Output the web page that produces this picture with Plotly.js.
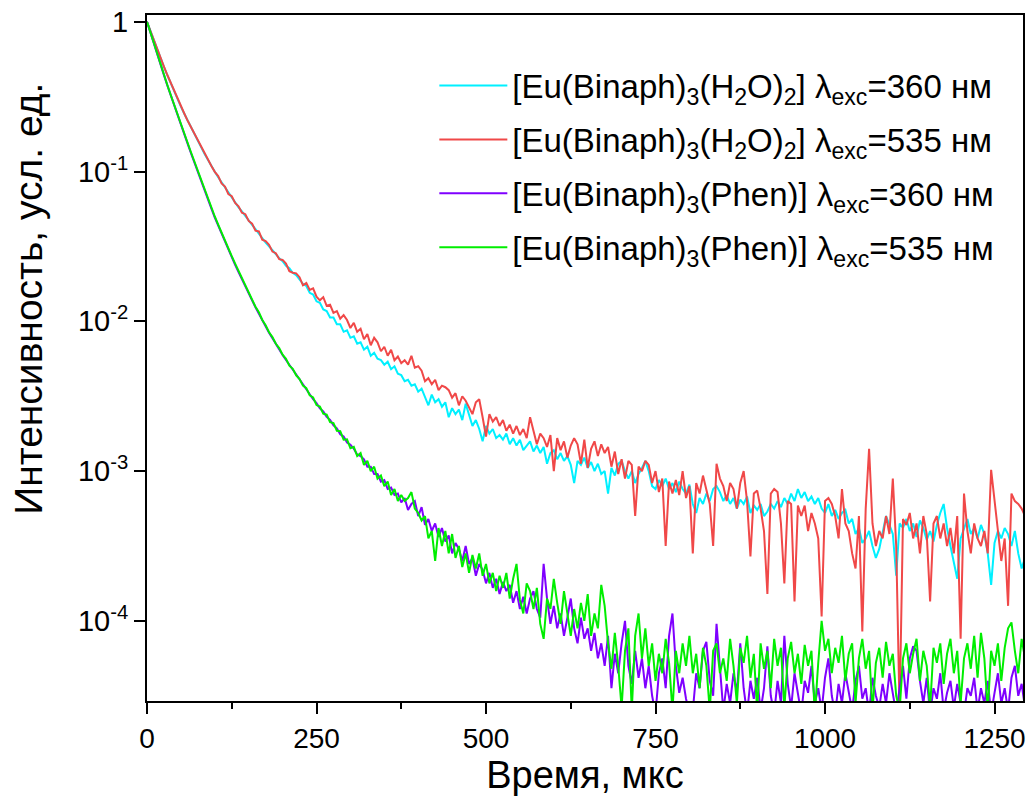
<!DOCTYPE html>
<html>
<head>
<meta charset="utf-8">
<script src="https://cdn.plot.ly/plotly-3.0.1.min.js"></script>
<style>html,body{margin:0;padding:0;background:#fff;}#chart{width:1032px;height:798px;}</style>
</head>
<body>
<div id="chart"></div>
<script>
// Time, µs
const time = [
0,5,10,15,20,25,30,35,40,45,50,55,60,65,70,75,80,85,90,95,
100,105,110,115,120,125,130,135,140,145,150,155,160,165,170,175,180,185,190,195,
200,205,210,215,220,225,230,235,240,245,250,255,260,265,270,275,280,285,290,295,
300,305,310,315,320,325,330,335,340,345,350,355,360,365,370,375,380,385,390,395,
400,405,410,415,420,425,430,435,440,445,450,455,460,465,470,475,480,485,490,495,
500,505,510,515,520,525,530,535,540,545,550,555,560,565,570,575,580,585,590,595,
600,605,610,615,620,625,630,635,640,645,650,655,660,665,670,675,680,685,690,695,
700,705,710,715,720,725,730,735,740,745,750,755,760,765,770,775,780,785,790,795,
800,805,810,815,820,825,830,835,840,845,850,855,860,865,870,875,880,885,890,895,
900,905,910,915,920,925,930,935,940,945,950,955,960,965,970,975,980,985,990,995,
1000,1005,1010,1015,1020,1025,1030,1035,1040,1045,1050,1055,1060,1065,1070,1075,1080,1085,1090,1095,
1100,1105,1110,1115,1120,1125,1130,1135,1140,1145,1150,1155,1160,1165,1170,1175,1180,1185,1190,1195,
1200,1205,1210,1215,1220,1225,1230,1235,1240,1245,1250,1255,1260,1265,1270,1275,1280,1285,1290,1295,
1300];

// [Eu(Binaph)3(H2O)2], λexc = 360 nm
const h2o360 = [
1,0.865,0.752,0.655,0.572,0.500,0.440,0.388,0.343,0.305,0.271,0.243,0.218,0.196,0.177,0.160,0.145,0.131,0.119,0.109,
0.0998,0.0915,0.0846,0.0778,0.0722,0.0666,0.0622,0.0576,0.0541,0.0503,0.0474,0.0440,0.0413,0.0383,0.0362,0.0335,0.0317,0.0297,0.0283,0.0264,
0.0252,0.0235,0.0226,0.0211,0.0203,0.0189,0.0178,0.0172,0.0155,0.0151,0.0136,0.0133,0.0120,0.0117,0.0106,0.0106,0.00955,0.00955,0.00851,0.00871,
0.00776,0.00794,0.00708,0.00724,0.00646,0.00676,0.00589,0.00617,0.00562,0.00550,0.00513,0.00537,0.00479,0.00501,0.00447,0.00437,0.00398,0.00407,0.00372,0.00380,
0.00339,0.00355,0.00316,0.00275,0.00324,0.00288,0.00302,0.00269,0.00288,0.00229,0.00263,0.00240,0.00257,0.00219,0.00282,0.00234,0.00200,0.00219,0.00191,0.00158,
0.00200,0.00178,0.00191,0.00166,0.00174,0.00162,0.00178,0.00151,0.00166,0.00148,0.00162,0.00138,0.00148,0.00158,0.00135,0.00148,0.00132,0.00145,0.00112,0.00132,
0.00138,0.00120,0.00132,0.00117,0.00126,0.00110,0.000832,0.00117,0.00110,0.00123,0.00105,0.00115,0.00100,0.00112,0.000955,0.00100,0.000708,0.00105,0.000933,0.00112,
0.00117,0.00100,0.000891,0.00100,0.000832,0.000955,0.00105,0.00117,0.00100,0.000794,0.000759,0.000871,0.000794,0.000891,0.000759,0.000832,0.000724,0.000851,0.000759,0.000708,
0.000813,0.000603,0.000525,0.000661,0.000603,0.000708,0.000631,0.000759,0.000794,0.000724,0.000631,0.000692,0.000603,0.000661,0.000562,0.000646,0.000603,0.000676,0.000525,0.000589,
0.000550,0.000603,0.000501,0.000537,0.000603,0.000562,0.000631,0.000575,0.000661,0.000603,0.000708,0.000631,0.000759,0.000661,0.000724,0.000631,0.000676,0.000603,0.000661,0.000562,
0.000525,0.000603,0.000501,0.000550,0.000479,0.000525,0.000550,0.000447,0.000479,0.000380,0.000417,0.000331,0.000355,0.000398,0.000316,0.000263,0.000302,0.000398,0.000501,0.000437,
0.000380,0.000200,0.000447,0.000417,0.000479,0.000398,0.000447,0.000363,0.000468,0.000417,0.000347,0.000398,0.000339,0.000437,0.000525,0.000603,0.000417,0.000316,0.000240,0.000191,
0.000355,0.000417,0.000479,0.000380,0.000417,0.000355,0.000437,0.000380,0.000282,0.000174,0.000331,0.000398,0.000355,0.000417,0.000380,0.000316,0.000398,0.000282,0.000224,0.000263,
0.000251];

// [Eu(Binaph)3(H2O)2], λexc = 535 nm
const h2o535 = [
1,0.867,0.753,0.657,0.573,0.502,0.441,0.390,0.344,0.306,0.272,0.244,0.218,0.197,0.177,0.161,0.145,0.132,0.119,0.109,
0.0995,0.0933,0.0832,0.0794,0.0708,0.0684,0.0617,0.0586,0.0531,0.0519,0.0468,0.0449,0.0403,0.0398,0.0351,0.0343,0.0324,0.0292,0.0285,0.0260,
0.0257,0.0243,0.0216,0.0211,0.0209,0.0197,0.0174,0.0180,0.0162,0.0166,0.0146,0.0138,0.0145,0.0127,0.0129,0.0114,0.0117,0.0104,0.0110,0.0102,
0.00902,0.00977,0.00851,0.00891,0.00759,0.00822,0.00692,0.00776,0.00724,0.00631,0.00676,0.00589,0.00646,0.00550,0.00582,0.00525,0.00550,0.00513,0.00589,0.00490,
0.00501,0.00468,0.00398,0.00417,0.00380,0.00407,0.00347,0.00372,0.00363,0.00347,0.00309,0.00331,0.00275,0.00316,0.00295,0.00263,0.00240,0.00288,0.00302,0.00229,
0.00170,0.00240,0.00214,0.00229,0.00200,0.00219,0.00186,0.00204,0.00178,0.00200,0.00174,0.00191,0.00166,0.00229,0.00182,0.00151,0.00178,0.00166,0.00145,0.00174,
0.00100,0.00166,0.00138,0.00158,0.00123,0.00148,0.00166,0.00151,0.00112,0.00162,0.00105,0.00141,0.00158,0.00126,0.00151,0.00132,0.00145,0.00107,0.00135,0.000955,
0.00120,0.000891,0.00117,0.00110,0.000501,0.00107,0.00100,0.00117,0.00110,0.000832,0.00100,0.000724,0.000891,0.000316,0.000851,0.000708,0.000871,0.000692,0.00100,0.000661,
0.000794,0.000282,0.000832,0.000708,0.000933,0.000759,0.000603,0.000316,0.00112,0.000891,0.000794,0.000631,0.000832,0.000759,0.000562,0.000832,0.00100,0.000631,0.000269,0.000708,
0.000741,0.000562,0.000398,0.000151,0.000708,0.000759,0.000724,0.000447,0.000178,0.000631,0.000603,0.000135,0.000589,0.000501,0.000589,0.000398,0.000525,0.000447,0.000355,0.000107,
0.000631,0.000661,0.000603,0.000501,0.000355,0.000759,0.000447,0.000398,0.000282,0.000224,0.000501,0.0000851,0.000562,0.00141,0.000447,0.000316,0.000398,0.000355,0.000501,0.000380,
0.000891,0.000316,0.0000251,0.000479,0.000437,0.000525,0.000355,0.000447,0.000282,0.000501,0.000380,0.000135,0.000447,0.000501,0.000355,0.000447,0.000316,0.000417,0.000282,0.000501,
0.0000759,0.000708,0.000398,0.000282,0.000447,0.000355,0.000316,0.000398,0.000282,0.00102,0.000631,0.000398,0.000251,0.000355,0.000126,0.000708,0.000631,0.000603,0.000562,0.000501,
0.000501];

// [Eu(Binaph)3(Phen)], λexc = 360 nm
const phen360 = [
1,0.843,0.714,0.606,0.516,0.440,0.376,0.322,0.276,0.237,0.205,0.177,0.153,0.132,0.114,0.0990,0.0858,0.0746,0.0650,0.0565,
0.0492,0.0434,0.0382,0.0338,0.0299,0.0267,0.0238,0.0213,0.0190,0.0170,0.0152,0.0138,0.0124,0.0112,0.0101,0.00918,0.00840,0.00772,0.00705,0.00650,
0.00596,0.00552,0.00510,0.00474,0.00440,0.00410,0.00380,0.00350,0.00327,0.00302,0.00284,0.00262,0.00250,0.00230,0.00220,0.00202,0.00193,0.00176,0.00170,0.00155,
0.00150,0.00141,0.00129,0.00126,0.00120,0.00107,0.00107,0.000955,0.000955,0.000851,0.000871,0.000759,0.000776,0.000692,0.000708,0.000617,0.000661,0.000550,0.000603,0.000631,
0.000501,0.000575,0.000437,0.000479,0.000398,0.000447,0.000363,0.000417,0.000339,0.000372,0.000282,0.000331,0.000302,0.000251,0.000316,0.000240,0.000263,0.000200,0.000240,0.000219,
0.000178,0.000209,0.000166,0.000191,0.000151,0.000182,0.000158,0.000174,0.000132,0.000158,0.000120,0.000145,0.000112,0.000141,0.000158,0.000120,0.000105,0.000240,0.000141,0.0000955,
0.000126,0.0000891,0.000112,0.0000794,0.000105,0.000141,0.0000891,0.0000708,0.000105,0.0000759,0.0000891,0.0000631,0.0000832,0.0000562,0.0000708,0.0000501,0.0000794,0.0000355,0.0000603,0.0000447,
0.0000708,0.000100,0.0000501,0.0000380,0.0000631,0.0000417,0.0000562,0.0000355,0.0000501,0.0000316,0.0000240,0.0000447,0.0000562,0.0000355,0.0000794,0.000112,0.0000501,0.0000331,0.0000417,0.0000302,
0.0000240,0.0000251,0.0000447,0.0000355,0.0000631,0.0000724,0.0000398,0.0000316,0.0000955,0.0000501,0.0000251,0.0000380,0.0000282,0.0000447,0.0000331,0.0000708,0.0000355,0.0000240,0.0000398,0.0000302,
0.0000417,0.0000251,0.0000355,0.0000676,0.0000316,0.0000240,0.0000398,0.0000282,0.0000794,0.0000380,0.0000263,0.0000447,0.0000316,0.0000240,0.0000398,0.0000331,0.0000501,0.0000282,0.0000355,0.0000251,
0.0000417,0.0000562,0.0000316,0.0000240,0.0000380,0.0000282,0.0000447,0.0000331,0.0000251,0.0000398,0.0000501,0.0000302,0.0000355,0.0000240,0.0000417,0.0000316,0.0000263,0.0000380,0.0000282,0.0000447,
0.0000331,0.0000240,0.0000355,0.0000501,0.0000302,0.0000562,0.0000676,0.0000631,0.0000398,0.0000282,0.0000417,0.0000240,0.0000355,0.0000302,0.0000447,0.0000251,0.0000331,0.0000398,0.0000263,0.0000380,
0.0000282,0.0000240,0.0000355,0.0000316,0.0000417,0.0000251,0.0000355,0.0000282,0.0000398,0.0000240,0.0000331,0.0000447,0.0000282,0.0000355,0.0000251,0.0000417,0.0000501,0.0000316,0.0000380,0.0000263,
0.0000331];

// [Eu(Binaph)3(Phen)], λexc = 535 nm
const phen535 = [
1,0.845,0.716,0.608,0.518,0.442,0.378,0.324,0.278,0.239,0.207,0.179,0.155,0.134,0.116,0.1005,0.0871,0.0759,0.0661,0.0575,
0.0501,0.0442,0.0389,0.0344,0.0305,0.0272,0.0243,0.0217,0.0194,0.0173,0.0155,0.0141,0.0125,0.0115,0.0102,0.00940,0.00845,0.00785,0.00708,0.00662,
0.00598,0.00562,0.00506,0.00482,0.00436,0.00412,0.00372,0.00358,0.00320,0.00310,0.00276,0.00270,0.00242,0.00238,0.00212,0.00209,0.00186,0.00185,0.00162,0.00163,
0.00142,0.00145,0.00126,0.00132,0.00110,0.00117,0.00100,0.00107,0.000891,0.000933,0.000794,0.000851,0.000692,0.000759,0.000631,0.000692,0.000631,0.000661,0.000724,0.000562,
0.000525,0.000468,0.000501,0.000355,0.000398,0.000251,0.000417,0.000316,0.000398,0.000282,0.000380,0.000263,0.000316,0.000229,0.000282,0.000209,0.000275,0.000224,0.000282,0.000200,
0.000240,0.000178,0.000209,0.000158,0.000200,0.000166,0.000209,0.000141,0.000191,0.000240,0.000138,0.000112,0.000178,0.000158,0.000120,0.000166,0.0000955,0.0000759,0.000141,0.000120,
0.000191,0.000132,0.0000955,0.000158,0.000112,0.0000794,0.000120,0.0000891,0.000132,0.000100,0.000151,0.0000794,0.000112,0.0000891,0.000174,0.000126,0.0000708,0.0000479,0.0000832,0.0000501,
0.0000263,0.0000631,0.0000891,0.0000251,0.0000794,0.000112,0.0000562,0.0000891,0.0000501,0.0000708,0.0000398,0.0000603,0.0000447,0.0000759,0.0000525,0.0000251,0.0000631,0.0000447,0.0000708,0.0000501,
0.0000794,0.0000447,0.0000603,0.0000355,0.0000661,0.0000501,0.0000251,0.0000631,0.0000708,0.0000447,0.0000562,0.0000398,0.0000759,0.0000501,0.0000282,0.0000661,0.0000525,0.0000794,0.0000417,0.0000603,
0.0000251,0.0000708,0.0000479,0.0000631,0.0000355,0.0000759,0.0000501,0.0000661,0.0000263,0.0000562,0.0000724,0.0000447,0.0000603,0.0000380,0.0000692,0.0000501,0.0000631,0.0000240,0.0000525,0.000100,
0.0000631,0.0000759,0.0000447,0.0000661,0.0000525,0.0000794,0.0000398,0.0000603,0.0000708,0.0000282,0.0000562,0.0000759,0.0000479,0.0000631,0.0000251,0.0000525,0.0000661,0.0000417,0.0000724,0.0000501,
0.0000603,0.0000316,0.0000251,0.0000562,0.0000708,0.0000447,0.0000603,0.0000759,0.0000398,0.0000631,0.0000501,0.0000263,0.0000661,0.0000525,0.0000708,0.0000380,0.0000603,0.0000759,0.0000447,0.0000631,
0.0000282,0.0000562,0.0000708,0.0000479,0.0000794,0.0000417,0.0000832,0.0000562,0.0000251,0.0000631,0.0000501,0.0000708,0.0000398,0.0000661,0.0000891,0.0000977,0.0000631,0.0000447,0.0000759,0.0000562,
0.0000631];

const seriesNames = [
  '[Eu(Binaph)<sub>3</sub>(H<sub>2</sub>O)<sub>2</sub>] λ<sub>exc</sub>=360 нм',
  '[Eu(Binaph)<sub>3</sub>(H<sub>2</sub>O)<sub>2</sub>] λ<sub>exc</sub>=535 нм',
  '[Eu(Binaph)<sub>3</sub>(Phen)] λ<sub>exc</sub>=360 нм',
  '[Eu(Binaph)<sub>3</sub>(Phen)] λ<sub>exc</sub>=535 нм'
];
const seriesColors = ['#00f0ff', '#f04848', '#7f00ff', '#00ee00'];
const seriesData = [h2o360, h2o535, phen360, phen535];

const yTickVals = [1e-4, 1e-3, 1e-2, 1e-1, 1];
const yTickText = ['10<sup>-4</sup>', '10<sup>-3</sup>', '10<sup>-2</sup>', '10<sup>-1</sup>', '1'];
const xTickVals = [0, 250, 500, 750, 1000, 1250];
const xTitle = 'Время, мкс';
const yTitle = 'Интенсивность, усл. ед.';

const traces = seriesData.map((ys, i) => ({
  type: 'scatter',
  mode: 'lines',
  x: time,
  y: ys,
  name: seriesNames[i],
  legendgroup: 'g' + i,
  line: {color: seriesColors[i], width: 2}
}));

const FONT = 'Liberation Sans, Arial, sans-serif';

const layout = {
  width: 1032,
  height: 798,
  margin: {l: 147, r: 9, t: 15, b: 97},
  paper_bgcolor: '#ffffff',
  plot_bgcolor: '#ffffff',
  font: {family: FONT, color: '#000000', size: 28},
  showlegend: true,
  legend: {
    x: 0.328, y: 0.938, xanchor: 'left', yanchor: 'top',
    bgcolor: 'rgba(0,0,0,0)',
    font: {family: FONT, size: 33, color: '#000'},
    traceorder: 'grouped',
    tracegroupgap: 8,
    itemwidth: 68
  },
  xaxis: {
    type: 'linear',
    range: [0, 1292],
    tickmode: 'array',
    tickvals: xTickVals,
    ticks: 'outside',
    ticklen: 11,
    tickwidth: 2,
    tickcolor: '#000',
    minor: {dtick: 125, tick0: 0, ticks: 'outside', ticklen: 6, tickwidth: 2, tickcolor: '#000', showgrid: false},
    showline: true,
    linewidth: 2,
    linecolor: '#000',
    mirror: true,
    showgrid: false,
    zeroline: false,
    tickfont: {family: FONT, size: 28, color: '#000'},
    title: {text: xTitle, font: {family: FONT, size: 38, color: '#000'}, standoff: 4}
  },
  yaxis: {
    type: 'log',
    range: [-4.535, 0.045],
    tickmode: 'array',
    tickvals: yTickVals,
    ticktext: yTickText,
    ticks: 'outside',
    ticklen: 11,
    tickwidth: 2,
    tickcolor: '#000',
    showline: true,
    linewidth: 2,
    linecolor: '#000',
    mirror: true,
    showgrid: false,
    zeroline: false,
    tickfont: {family: FONT, size: 29, color: '#000'},
    title: {text: ''}
  },
  annotations: [{
    text: yTitle,
    xref: 'paper', yref: 'paper',
    x: -0.136, y: 0.586,
    xanchor: 'center', yanchor: 'middle',
    textangle: -90,
    showarrow: false,
    font: {family: FONT, size: 39, color: '#000'}
  }]
};

Plotly.newPlot('chart', traces, layout, {displayModeBar: false, staticPlot: true});
</script>
</body>
</html>
